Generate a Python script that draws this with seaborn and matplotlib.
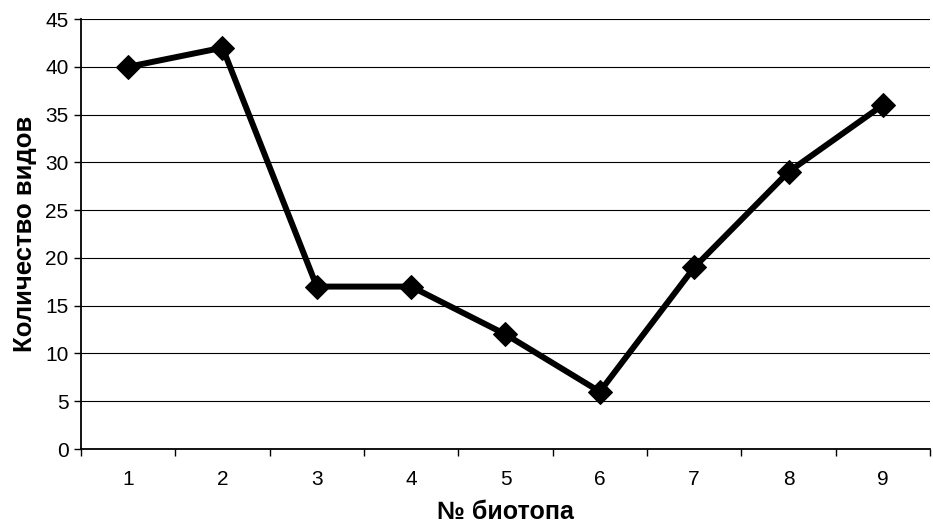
import matplotlib
matplotlib.use("Agg")
import matplotlib.pyplot as plt
import seaborn as sns
import pandas as pd
import numpy as np
from matplotlib.ticker import FixedLocator

categories = ["1", "2", "3", "4", "5", "6", "7", "8", "9"]
values = [40, 42, 17, 17, 12, 6, 19, 29, 36]
y_ticks = [0, 5, 10, 15, 20, 25, 30, 35, 40, 45]

sns.set_theme(style="white")
plt.rcParams['font.family'] = ['Liberation Sans', 'DejaVu Sans']

df = pd.DataFrame({"pos": np.arange(len(categories)), "val": values})

fig = plt.figure(figsize=(9.33, 5.29), dpi=100)
ax = fig.add_axes([0.0868, 0.1512, 0.91, 0.8128])

sns.lineplot(data=df, x="pos", y="val", ax=ax, color="black", linewidth=4.3,
             marker="D", markersize=12.5, markeredgecolor="black", markerfacecolor="black")

ax.set_xlim(-0.5, len(categories) - 0.5)
ax.set_ylim(0, 45)
ax.set_yticks(y_ticks)
ax.set_yticklabels([str(t) for t in y_ticks])
ax.set_xticks(np.arange(len(categories)))
ax.set_xticklabels(categories)
ax.xaxis.set_minor_locator(FixedLocator(np.arange(len(categories) + 1) - 0.5))

ax.tick_params(axis="x", which="major", length=0, pad=15, labelsize=15, colors="black")
ax.tick_params(axis="x", which="minor", length=5, width=1, color="black", direction="out", bottom=True)
ax.tick_params(axis="y", which="major", length=5, width=1, color="black", direction="out", left=True,
               labelsize=15, pad=4, colors="black")

ax.yaxis.grid(True, color="black", linewidth=0.8)
ax.set_axisbelow(True)

for s in ["top", "right"]:
    ax.spines[s].set_visible(False)
ax.spines["left"].set_color("black")
ax.spines["left"].set_linewidth(1.3)
ax.spines["bottom"].set_color("black")
ax.spines["bottom"].set_linewidth(1.3)

ax.set_xlabel("№ биотопа", fontsize=18, fontweight="bold", color="black", labelpad=8)
ax.set_ylabel("Количество видов", fontsize=18.5, fontweight="bold", color="black", labelpad=6)

fig.savefig("out.png", dpi=100)
